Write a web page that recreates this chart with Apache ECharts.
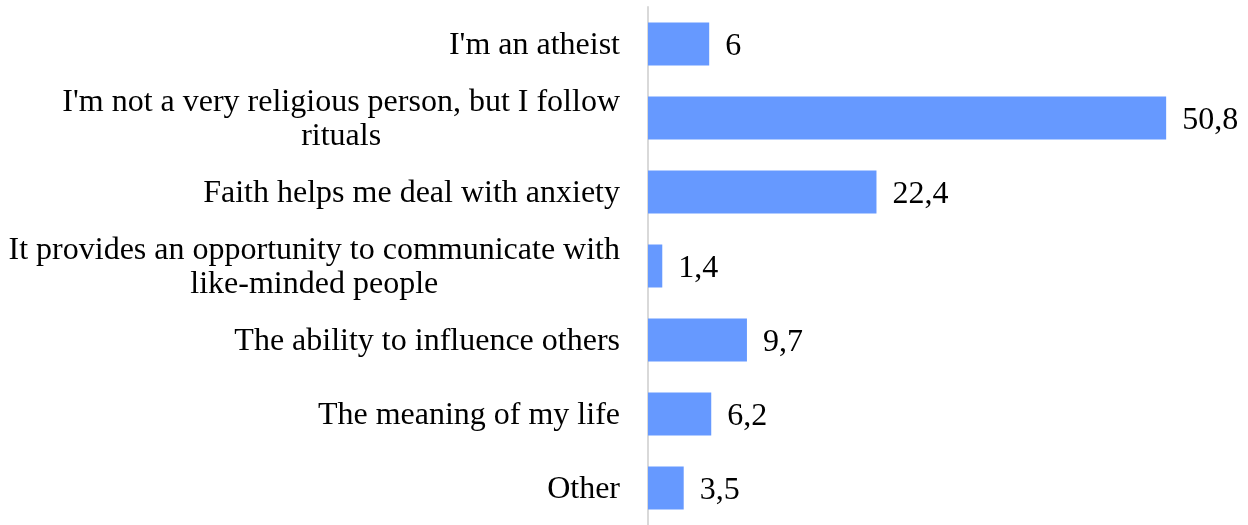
<!DOCTYPE html>
<html>
<head>
<meta charset="utf-8">
<script src="https://cdn.jsdelivr.net/npm/echarts@6/dist/echarts.min.js"></script>
<style>
  html, body { margin: 0; padding: 0; background: #fff; }
  #chart { width: 1248px; height: 525px; }
</style>
</head>
<body>
<div id="chart"></div>
<script>
var categories = [
  "I'm an atheist",
  "I'm not a very religious person, but I follow\nrituals",
  "Faith helps me deal with anxiety",
  "It provides an opportunity to communicate with\nlike-minded people",
  "The ability to influence others",
  "The meaning of my life",
  "Other"
];
var values = [6, 50.8, 22.4, 1.4, 9.7, 6.2, 3.5];

// ось как в оригинале: без подписей, только линия слева
var chart = echarts.init(document.getElementById('chart'));

function commaNum(v) {
  return String(v).replace('.', ',');
}

var option = {
  animation: false,
  textStyle: { fontFamily: 'Liberation Serif' },
  grid: { left: 648, top: 7, width: 561, height: 519 },
  xAxis: {
    type: 'value',
    min: 0,
    max: 55,
    show: false
  },
  yAxis: {
    type: 'category',
    inverse: true,
    data: categories,
    axisLine: { show: true, lineStyle: { color: '#d9d9d9', width: 2 } },
    axisTick: { show: false },
    axisLabel: {
      margin: 28,
      color: '#000',
      fontSize: 32,
      fontFamily: 'Liberation Serif',
      lineHeight: 34,
      padding: [4, 0, 0, 0],
      formatter: function (val) {
        return val.split('\n').map(function (s) { return '{c|' + s + '}'; }).join('\n');
      },
      rich: {
        c: {
          align: 'center',
          color: '#000',
          fontSize: 32,
          fontFamily: 'Liberation Serif',
          lineHeight: 34
        }
      }
    }
  },
  series: [{
    type: 'bar',
    data: values,
    barWidth: 43,
    itemStyle: { color: '#6699ff' },
    label: {
      show: true,
      position: 'right',
      distance: 16,
      offset: [0, 3],
      color: '#000',
      fontSize: 32,
      fontFamily: 'Liberation Serif',
      formatter: function (p) { return commaNum(p.value); }
    }
  }]
};

chart.setOption(option);
</script>
</body>
</html>
